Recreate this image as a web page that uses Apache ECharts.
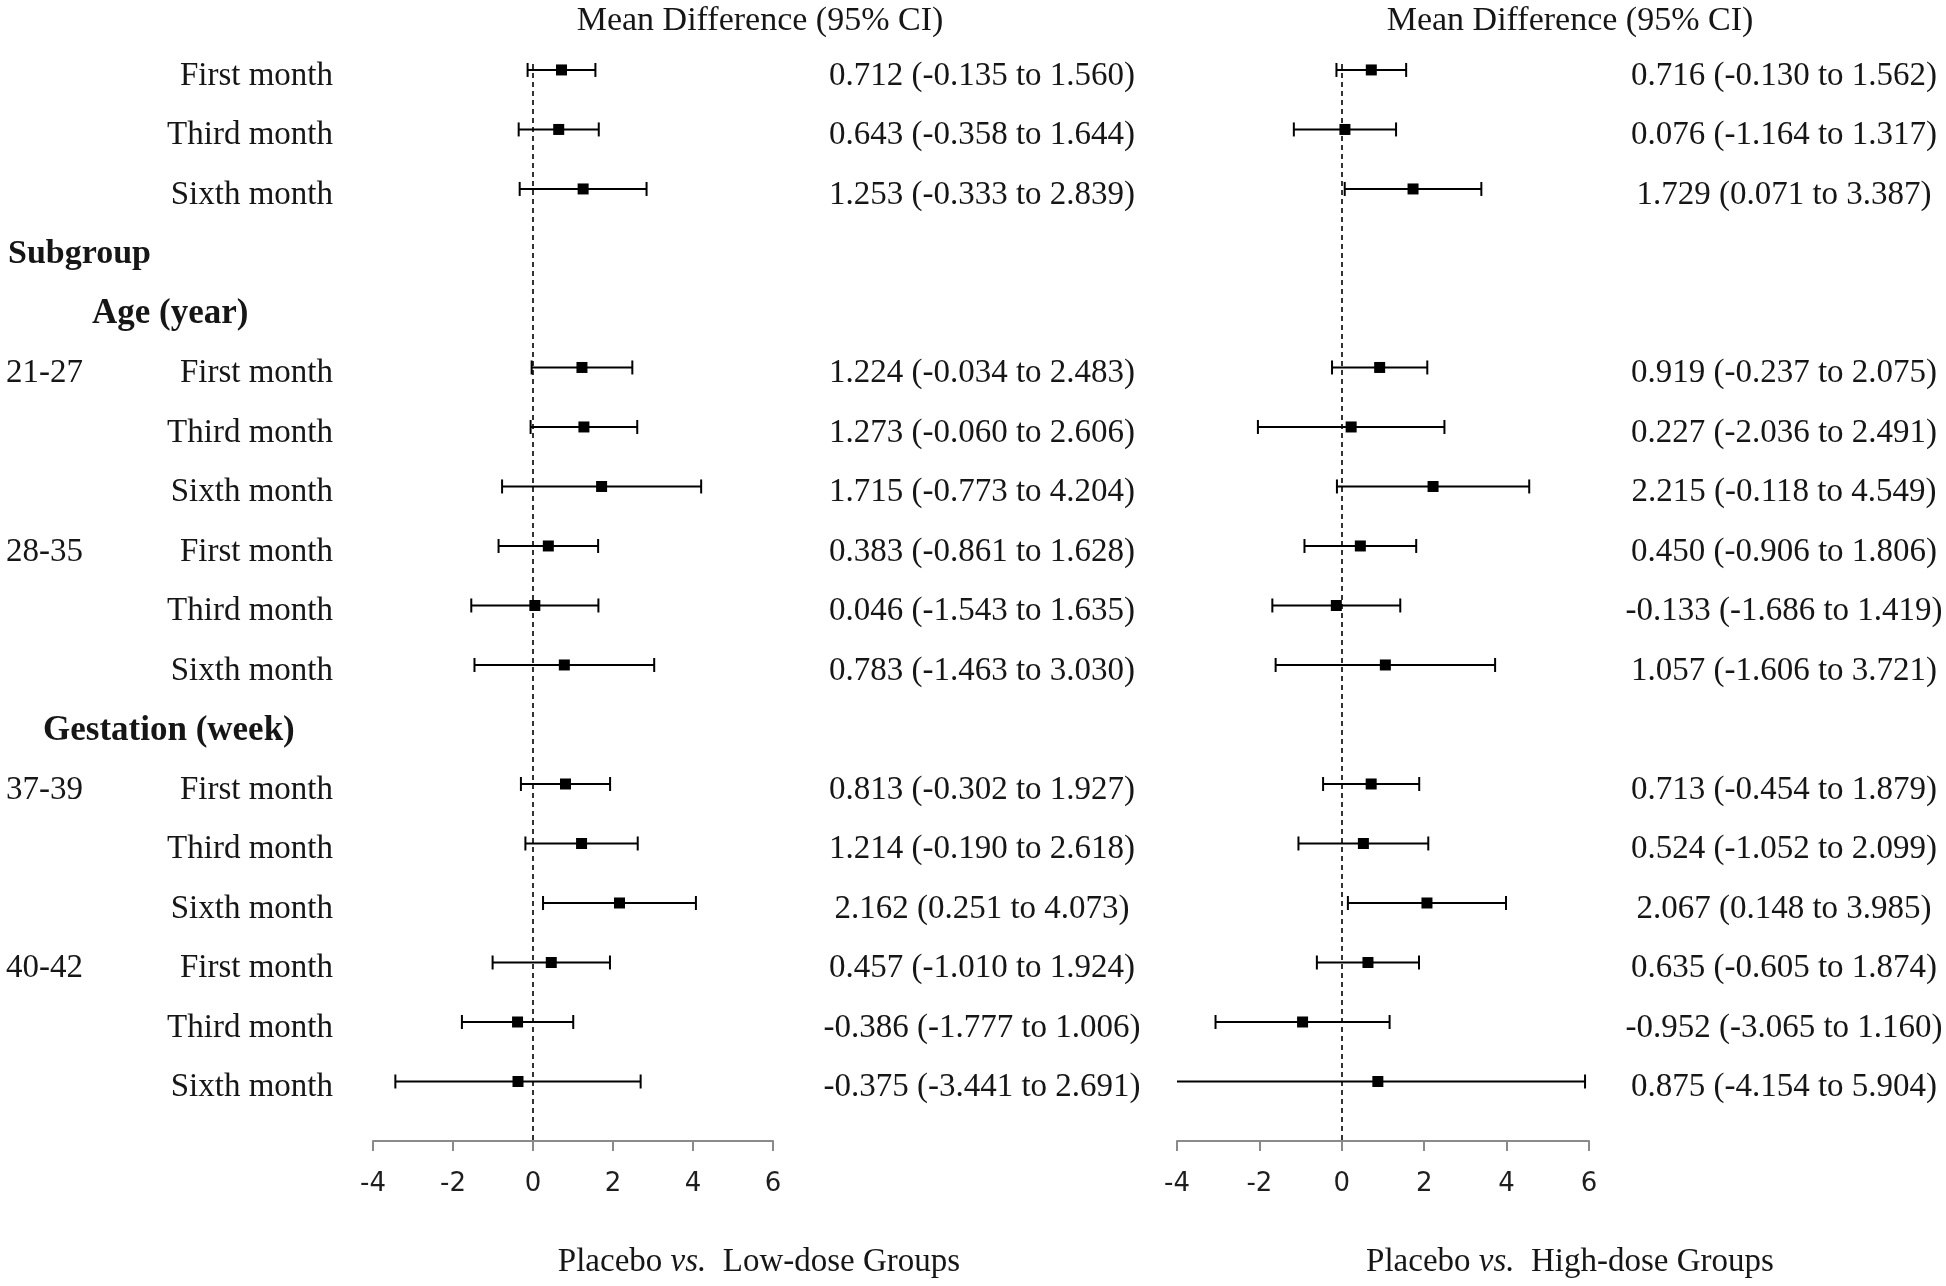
<!DOCTYPE html>
<html>
<head>
<meta charset="utf-8">
<script src="https://cdn.jsdelivr.net/npm/echarts@6/dist/echarts.min.js"></script>
<style>
  html, body { margin: 0; padding: 0; background: #fff; }
  #chart { width: 1946px; height: 1286px; }
</style>
</head>
<body>
<div id="chart"></div>
<script>
// ---------- data ----------
const rowLabels = ['First month','Third month','Sixth month','','',
  'First month','Third month','Sixth month','First month','Third month','Sixth month','',
  'First month','Third month','Sixth month','First month','Third month','Sixth month'];
const groupLabels = ['','','','','','21-27','','','28-35','','','','37-39','','','40-42','',''];
const headingLabels = ['','','','Subgroup','Age (year)','','','','','','','Gestation (week)','','','','','',''];

const lowMean  = [0.712, 0.643, 1.253, null, null, 1.224, 1.273, 1.715, 0.383, 0.046, 0.783, null, 0.813, 1.214, 2.162, 0.457, -0.386, -0.375];
const lowLower = [-0.135, -0.358, -0.333, null, null, -0.034, -0.060, -0.773, -0.861, -1.543, -1.463, null, -0.302, -0.190, 0.251, -1.010, -1.777, -3.441];
const lowUpper = [1.560, 1.644, 2.839, null, null, 2.483, 2.606, 4.204, 1.628, 1.635, 3.030, null, 1.927, 2.618, 4.073, 1.924, 1.006, 2.691];

const highMean  = [0.716, 0.076, 1.729, null, null, 0.919, 0.227, 2.215, 0.450, -0.133, 1.057, null, 0.713, 0.524, 2.067, 0.635, -0.952, 0.875];
const highLower = [-0.130, -1.164, 0.071, null, null, -0.237, -2.036, -0.118, -0.906, -1.686, -1.606, null, -0.454, -1.052, 0.148, -0.605, -3.065, -4.154];
const highUpper = [1.562, 1.317, 3.387, null, null, 2.075, 2.491, 4.549, 1.806, 1.419, 3.721, null, 1.879, 2.099, 3.985, 1.874, 1.160, 5.904];

const xTicks = [-4, -2, 0, 2, 4, 6];
const headerText = 'Mean Difference (95% CI)';
const panelTitles = [['Placebo ', 'vs.', '  Low-dose Groups'], ['Placebo ', 'vs.', '  High-dose Groups']];

// ---------- helpers ----------
const X_MIN = xTicks[0], X_MAX = xTicks[xTicks.length - 1], X_STEP = xTicks[1] - xTicks[0];
const SERIF = '"Liberation Serif", "Times New Roman", serif';
const TXT = '#161616';
const TEXT_DY = 6;

function ciText(m, l, u) {
  return m.toFixed(3) + ' (' + l.toFixed(3) + ' to ' + u.toFixed(3) + ')';
}
function buildCI(mean, lower, upper) {
  const out = [];
  mean.forEach((m, i) => { if (m !== null) out.push([lower[i], upper[i], i]); });
  return out;
}
function buildPts(mean) {
  const out = [];
  mean.forEach((m, i) => { if (m !== null) out.push([m, i]); });
  return out;
}
function buildTxt(mean, lower, upper) {
  const out = [];
  mean.forEach((m, i) => { if (m !== null) out.push([0, i, ciText(m, lower[i], upper[i])]); });
  return out;
}

const CAP = 7;
function whiskerRender(params, api) {
  const lo = api.value(0), hi = api.value(1), r = api.value(2);
  const a = api.coord([Math.max(lo, X_MIN), r]);
  const b = api.coord([Math.min(hi, X_MAX), r]);
  const st = { stroke: '#000', lineWidth: 2 };
  const ch = [{ type: 'line', shape: { x1: a[0], y1: a[1], x2: b[0], y2: b[1] }, style: st }];
  if (lo >= X_MIN) ch.push({ type: 'line', shape: { x1: a[0], y1: a[1] - CAP, x2: a[0], y2: a[1] + CAP }, style: st });
  if (hi <= X_MAX) ch.push({ type: 'line', shape: { x1: b[0], y1: b[1] - CAP, x2: b[0], y2: b[1] + CAP }, style: st });
  return { type: 'group', children: ch };
}

function textRender(cx) {
  return function (params, api) {
    const r = api.value(1);
    const p = api.coord([0, r]);
    return {
      type: 'text',
      x: cx, y: p[1] + TEXT_DY,
      style: { text: api.value(2), fill: TXT, font: '33px ' + SERIF, align: 'center', verticalAlign: 'middle' }
    };
  };
}

const headingStyle = { 'Subgroup': { x: 8, size: 34 }, 'Age (year)': { x: 92, size: 35 }, 'Gestation (week)': { x: 43, size: 35 } };
function labelRender(params, api) {
  const r = api.value(1);
  const y = api.coord([0, r])[1] + TEXT_DY;
  const ch = [];
  if (rowLabels[r]) ch.push({ type: 'text', x: 333, y: y,
    style: { text: rowLabels[r], fill: TXT, font: '33px ' + SERIF, align: 'right', verticalAlign: 'middle' } });
  if (groupLabels[r]) ch.push({ type: 'text', x: 6, y: y,
    style: { text: groupLabels[r], fill: TXT, font: '33px ' + SERIF, align: 'left', verticalAlign: 'middle' } });
  if (headingLabels[r]) {
    const hs = headingStyle[headingLabels[r]];
    ch.push({ type: 'text', x: hs.x, y: y,
      style: { text: headingLabels[r], fill: TXT, font: 'bold ' + hs.size + 'px ' + SERIF, align: 'left', verticalAlign: 'middle' } });
  }
  return { type: 'group', children: ch };
}

// ---------- layout ----------
const GRID_TOP = 64, GRID_BOTTOM = 145;
const grids = [
  { left: 373, width: 400, top: GRID_TOP, bottom: GRID_BOTTOM },
  { left: 1177, width: 412, top: GRID_TOP, bottom: GRID_BOTTOM }
];

function xAxisCfg(gi) {
  return {
    type: 'value', gridIndex: gi, min: X_MIN, max: X_MAX, interval: X_STEP,
    splitLine: { show: false },
    axisLine: { show: true, onZero: false, lineStyle: { color: '#8a8a8a', width: 2 } },
    axisTick: { show: true, length: 10, lineStyle: { color: '#8a8a8a', width: 2 } },
    axisLabel: { show: true, margin: 30, color: '#1e1e1e', fontSize: 26, fontFamily: 'DejaVu Sans' }
  };
}
function yAxisCfg(gi) {
  return { type: 'value', gridIndex: gi, inverse: true, min: -0.1, max: 18, show: false, splitLine: { show: false } };
}

function panelSeries(gi, mean, lower, upper, textX) {
  return [
    { type: 'custom', xAxisIndex: gi, yAxisIndex: gi, renderItem: whiskerRender,
      data: buildCI(mean, lower, upper), encode: { x: [0, 1], y: 2 }, silent: true, z: 3 },
    { type: 'scatter', xAxisIndex: gi, yAxisIndex: gi, data: buildPts(mean),
      symbol: 'rect', symbolSize: 11, itemStyle: { color: '#000', opacity: 1 }, silent: true, z: 4,
      markLine: { silent: true, symbol: 'none', label: { show: false },
        lineStyle: { color: '#000', type: [5, 4], width: 1.6 }, data: [{ xAxis: 0 }] } },
    { type: 'custom', xAxisIndex: gi, yAxisIndex: gi, renderItem: textRender(textX),
      data: buildTxt(mean, lower, upper), encode: { x: 0, y: 1 }, silent: true, clip: false }
  ];
}

const labelData = rowLabels.map((_, i) => [0, i]);

function titleGraphic(cx, parts) {
  return {
    type: 'text', x: cx, y: 1262,
    style: {
      text: '{n|' + parts[0] + '}{i|' + parts[1] + '}{n|' + parts[2] + '}',
      align: 'center', verticalAlign: 'middle',
      rich: {
        n: { font: '33px ' + SERIF, fill: TXT },
        i: { font: 'italic 33px ' + SERIF, fill: TXT }
      }
    }
  };
}

const option = {
  backgroundColor: '#fff',
  animation: false,
  grid: grids,
  xAxis: [xAxisCfg(0), xAxisCfg(1)],
  yAxis: [yAxisCfg(0), yAxisCfg(1)],
  graphic: [
    { type: 'text', x: 760, y: 21, style: { text: headerText, font: '34px ' + SERIF, fill: TXT, align: 'center', verticalAlign: 'middle' } },
    { type: 'text', x: 1570, y: 21, style: { text: headerText, font: '34px ' + SERIF, fill: TXT, align: 'center', verticalAlign: 'middle' } },
    titleGraphic(759, panelTitles[0]),
    titleGraphic(1570, panelTitles[1])
  ],
  series: [
    { type: 'custom', xAxisIndex: 0, yAxisIndex: 0, renderItem: labelRender,
      data: labelData, encode: { x: 0, y: 1 }, silent: true, clip: false }
  ].concat(panelSeries(0, lowMean, lowLower, lowUpper, 982))
   .concat(panelSeries(1, highMean, highLower, highUpper, 1784))
};

const chart = echarts.init(document.getElementById('chart'), null, { renderer: 'canvas' });
chart.setOption(option);
</script>
</body>
</html>
